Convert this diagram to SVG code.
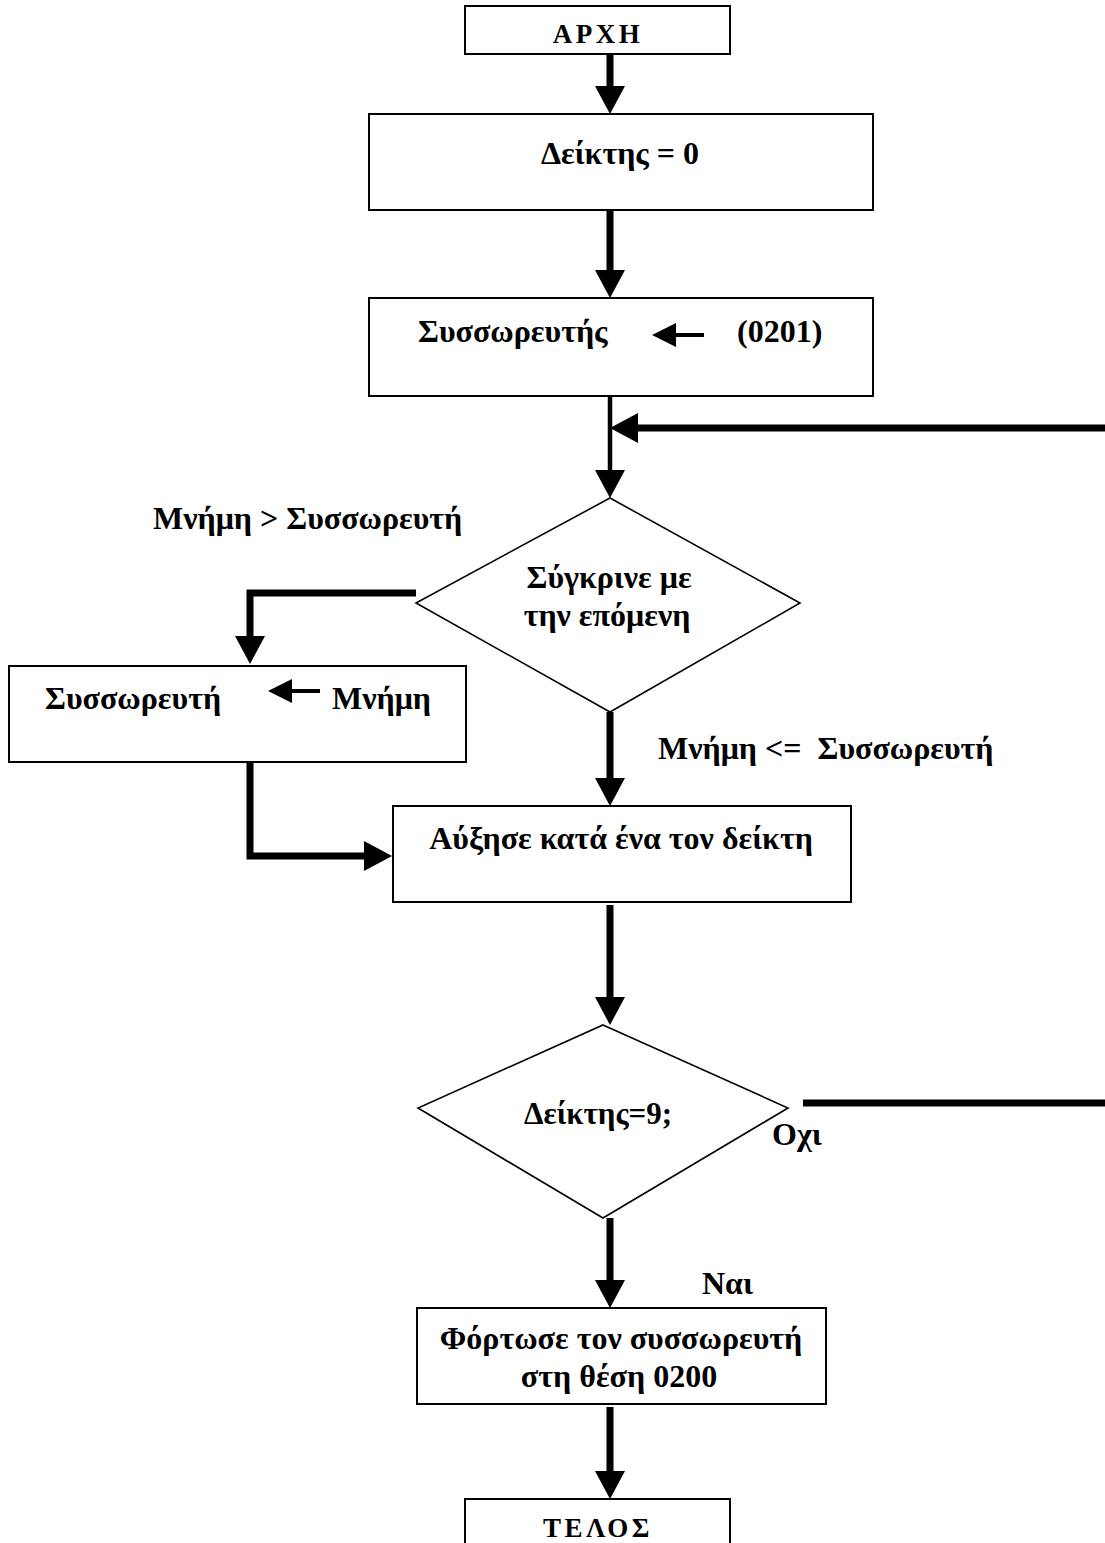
<svg xmlns="http://www.w3.org/2000/svg" width="1105" height="1543" viewBox="0 0 1105 1543">
  <style>
    .box { fill: #ffffff; stroke: #000000; stroke-width: 2; }
    .dia { fill: #ffffff; stroke: #000000; stroke-width: 1.6; }
    .t { font-family: "Liberation Serif", "Times New Roman", serif; font-weight: bold; font-size: 32px; fill: #000000; white-space: pre; }
    .c { text-anchor: middle; }
    .cap { font-size: 27px; letter-spacing: 3.5px; }
    .cond { font-size: 31px; }
    .wire { fill: none; stroke: #000000; stroke-width: 7; stroke-linejoin: miter; }
    .thin { stroke-width: 4.5; }
    .mini { fill: none; stroke: #000000; stroke-width: 4; }
  </style>
  <defs>
    <marker id="head" viewBox="0 0 28 30" markerWidth="28" markerHeight="30" markerUnits="userSpaceOnUse" refX="14" refY="15" orient="auto">
      <path d="M0,0 L28,15 L0,30 Z" fill="#000000"/>
    </marker>
    <marker id="minihead" viewBox="0 0 24 24" markerWidth="24" markerHeight="24" markerUnits="userSpaceOnUse" refX="10" refY="12" orient="auto">
      <path d="M0,0 L24,12 L0,24 Z" fill="#000000"/>
    </marker>
  </defs>

  <!-- connectors -->
  <g id="connectors">
    <path class="wire" d="M610,54 V100" marker-end="url(#head)"/>
    <path class="wire" d="M610,210 V284" marker-end="url(#head)"/>
    <path class="wire thin" d="M610,396 V484" marker-end="url(#head)"/>
    <path class="wire" d="M1105,428 H624" marker-end="url(#head)"/>
    <path class="wire" d="M416,593 H250 V650" marker-end="url(#head)"/>
    <path class="wire" d="M250,762 V856 H378" marker-end="url(#head)"/>
    <path class="wire" d="M610,712 V792" marker-end="url(#head)"/>
    <path class="wire" d="M610,905 V1011" marker-end="url(#head)"/>
    <path class="wire" d="M803,1103 H1105"/>
    <path class="wire" d="M610,1218 V1294" marker-end="url(#head)"/>
    <path class="wire" d="M610,1407 V1485" marker-end="url(#head)"/>
  </g>

  <!-- start -->
  <g id="start">
    <rect class="box" x="465" y="6" width="265" height="48"/>
    <text class="t c cap" x="598" y="43">ΑΡΧΗ</text>
  </g>

  <g id="init-index">
    <rect class="box" x="369" y="114" width="504" height="96"/>
    <text class="t c" x="620" y="164">Δείκτης = 0</text>
  </g>

  <g id="load-acc">
    <rect class="box" x="369" y="298" width="504" height="98"/>
    <text class="t" x="418" y="342">Συσσωρευτής</text>
    <path class="mini" d="M704,335 H666" marker-end="url(#minihead)"/>
    <text class="t" x="737" y="342">(0201)</text>
  </g>

  <g id="compare">
    <polygon class="dia" points="610,498 800,603 610,712 416,603"/>
    <text class="t c" x="609" y="588">Σύγκρινε με</text>
    <text class="t c" x="607" y="626">την επόμενη</text>
  </g>

  <g id="label-greater">
    <text class="t" x="153" y="529">Μνήμη &gt; Συσσωρευτή</text>
  </g>

  <g id="copy-mem">
    <rect class="box" x="9" y="666" width="457" height="96"/>
    <text class="t" x="45" y="709">Συσσωρευτή</text>
    <path class="mini" d="M320,691 H282" marker-end="url(#minihead)"/>
    <text class="t" x="332" y="709">Μνήμη</text>
  </g>

  <g id="label-lesseq">
    <text class="t" x="658" y="759">Μνήμη &lt;=  Συσσωρευτή</text>
  </g>

  <g id="increment">
    <rect class="box" x="393" y="806" width="458" height="96"/>
    <text class="t c" x="621" y="849">Αύξησε κατά ένα τον δείκτη</text>
  </g>

  <g id="check-index">
    <polygon class="dia" points="603,1025 788,1108 603,1218 418,1108"/>
    <text class="t c cond" x="598" y="1124">Δείκτης=9;</text>
  </g>

  <g id="label-no">
    <text class="t" x="772" y="1145">Οχι</text>
  </g>

  <g id="label-yes">
    <text class="t" x="702" y="1294">Ναι</text>
  </g>

  <g id="store">
    <rect class="box" x="417" y="1308" width="409" height="96"/>
    <text class="t c" x="621" y="1349">Φόρτωσε τον συσσωρευτή</text>
    <text class="t c" x="619" y="1387">στη θέση 0200</text>
  </g>

  <g id="end">
    <rect class="box" x="465" y="1499" width="265" height="60"/>
    <text class="t c cap" x="598" y="1537">ΤΕΛΟΣ</text>
  </g>
</svg>
